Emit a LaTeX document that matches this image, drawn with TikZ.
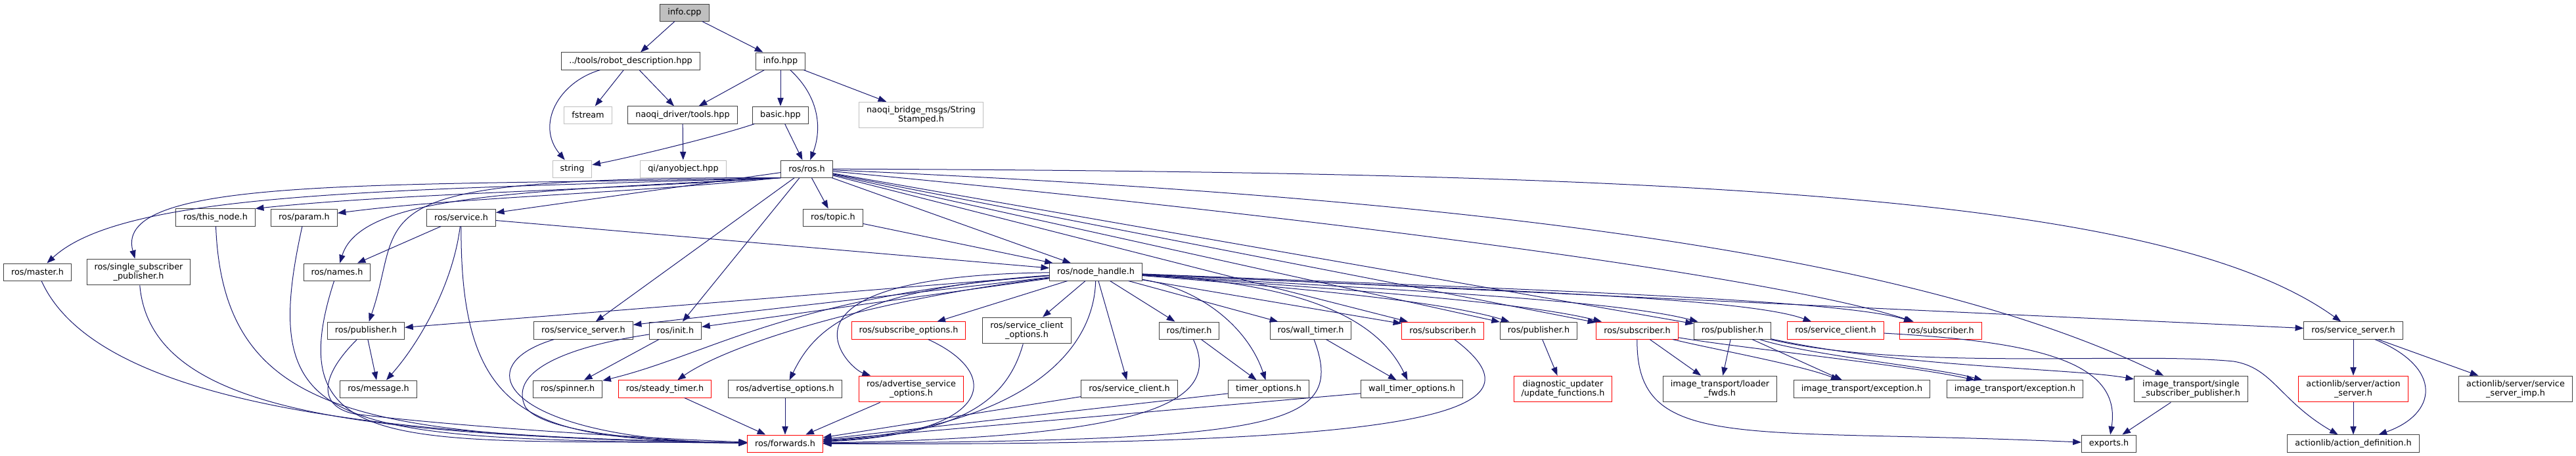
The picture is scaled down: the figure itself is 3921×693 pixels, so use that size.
\documentclass[tikz,border=0pt]{standalone}
\usepackage{fontspec}
\setmainfont{DejaVu Sans}
\usetikzlibrary{arrows.meta}
\definecolor{EdgeBlue}{HTML}{191970}
\definecolor{BoxGray}{HTML}{404040}
\definecolor{ExtGray}{HTML}{BFBFBF}
\definecolor{RootFill}{HTML}{BFBFBF}
\definecolor{TruncRed}{HTML}{FF0000}

\begin{document}
\begin{tikzpicture}[
x=0.75pt,y=-0.75pt,
hdr/.style={draw=BoxGray,fill=white,line width=0.75pt,align=center,minimum height=19.5pt,inner xsep=8.6pt,inner ysep=5pt,font=\fontsize{9.6pt}{10.3pt}\selectfont},
hdrred/.style={hdr,draw=TruncRed},
hdrext/.style={hdr,draw=ExtGray},
hdrroot/.style={hdr,fill=RootFill},
inc/.style={EdgeBlue,line width=0.75pt,-{Triangle[length=9.5pt,width=7pt]}}
]
\useasboundingbox (0,0) rectangle (3921,693);
\node[hdrroot] (infocpp) at (1042,19) {info.cpp};
\node[hdr] (robdesc) at (960,93) {../tools/robot\_description.hpp};
\node[hdr] (infohpp) at (1188,93) {info.hpp};
\node[hdrext] (fstream) at (895,175) {fstream};
\node[hdr] (tools) at (1039,175) {naoqi\_driver/tools.hpp};
\node[hdr] (basic) at (1188,175) {basic.hpp};
\node[hdrext] (stamped) at (1402,175) {naoqi\_bridge\_msgs/String\\Stamped.h};
\node[hdrext] (string) at (871,257) {string};
\node[hdrext] (anyobj) at (1040,257) {qi/anyobject.hpp};
\node[hdr] (ros) at (1228,257) {ros/ros.h};
\node[hdr] (thisnode) at (328,331) {ros/this\_node.h};
\node[hdr] (param) at (463,331) {ros/param.h};
\node[hdr] (service) at (702,331) {ros/service.h};
\node[hdr] (topic) at (1268,331) {ros/topic.h};
\node[hdr] (master) at (57,414) {ros/master.h};
\node[hdr] (ssp) at (211,414) {ros/single\_subscriber\\\_publisher.h};
\node[hdr] (names) at (513,414) {ros/names.h};
\node[hdr] (nodehandle) at (1668,414) {ros/node\_handle.h};
\node[hdr] (pub1) at (557,503) {ros/publisher.h};
\node[hdr] (srvsrv1) at (888,503) {ros/service\_server.h};
\node[hdr] (init) at (1028,503) {ros/init.h};
\node[hdrred] (subopts) at (1383,503) {ros/subscribe\_options.h};
\node[hdr] (srvcliopts) at (1563,503) {ros/service\_client\\\_options.h};
\node[hdr] (timer) at (1810,503) {ros/timer.h};
\node[hdr] (walltimer) at (1995,503) {ros/wall\_timer.h};
\node[hdrred] (sub1) at (2196,503) {ros/subscriber.h};
\node[hdr] (pub2) at (2342,503) {ros/publisher.h};
\node[hdrred] (sub2) at (2492,503) {ros/subscriber.h};
\node[hdr] (pub3) at (2637,503) {ros/publisher.h};
\node[hdrred] (srvcli2) at (2794,503) {ros/service\_client.h};
\node[hdrred] (sub3) at (2954,503) {ros/subscriber.h};
\node[hdr] (srvsrv2) at (3582,503) {ros/service\_server.h};
\node[hdr] (message) at (576,592) {ros/message.h};
\node[hdr] (spinner) at (864,592) {ros/spinner.h};
\node[hdrred] (steady) at (1012,592) {ros/steady\_timer.h};
\node[hdr] (advopts) at (1195,592) {ros/advertise\_options.h};
\node[hdrred] (advsrvopts) at (1387,592) {ros/advertise\_service\\\_options.h};
\node[hdr] (srvcli1) at (1719,592) {ros/service\_client.h};
\node[hdr] (timeropts) at (1931,592) {timer\_options.h};
\node[hdr] (walltimeropts) at (2149,592) {wall\_timer\_options.h};
\node[hdrred] (diag) at (2379,592) {diagnostic\_updater\\/update\_functions.h};
\node[hdr] (loader) at (2618,592) {image\_transport/loader\\\_fwds.h};
\node[hdr] (exc1) at (2834,592) {image\_transport/exception.h};
\node[hdr] (exc2) at (3067,592) {image\_transport/exception.h};
\node[hdr] (itssp) at (3335,592) {image\_transport/single\\\_subscriber\_publisher.h};
\node[hdrred] (actsrv) at (3582,592) {actionlib/server/action\\\_server.h};
\node[hdr] (srvimp) at (3829,592) {actionlib/server/service\\\_server\_imp.h};
\node[hdrred] (forwards) at (1195,675) {ros/forwards.h};
\node[hdr] (exports) at (3210,675) {exports.h};
\node[hdr] (actdef) at (3582,675) {actionlib/action\_definition.h};
\draw[inc] (infocpp) -- (robdesc);
\draw[inc] (infocpp) -- (infohpp);
\draw[inc] (robdesc) .. controls (850,125) and (815,190) .. (string);
\draw[inc] (robdesc) -- (fstream);
\draw[inc] (robdesc) -- (tools);
\draw[inc] (infohpp) -- (tools);
\draw[inc] (infohpp) -- (basic);
\draw[inc] (infohpp) .. controls (1250,150) and (1250,200) .. (ros);
\draw[inc] (infohpp) -- (stamped);
\draw[inc] (tools) -- (anyobj);
\draw[inc] (basic) .. controls (1100,205) and (980,235) .. (string);
\draw[inc] (basic) -- (ros);
\draw[inc] (ros.south west) .. controls (600,290) and (190,290) .. (master);
\draw[inc] (ros.south west) .. controls (600,285) and (170,265) .. (ssp);
\draw[inc] (ros.south west) .. controls (900,290) and (600,295) .. (thisnode.north east);
\draw[inc] (ros.south west) .. controls (950,295) and (700,300) .. (param);
\draw[inc] (ros.south west) .. controls (800,292) and (550,295) .. (names);
\draw[inc] (ros.south west) .. controls (520,270) and (620,320) .. (pub1);
\draw[inc] (ros) -- (service);
\draw[inc] (ros) -- (topic);
\draw[inc] (ros) -- (srvsrv1);
\draw[inc] (ros) -- (init);
\draw[inc] (ros) -- (nodehandle);
\draw[inc] (ros) -- (sub1);
\draw[inc] (ros) -- (pub2);
\draw[inc] (ros) -- (sub2);
\draw[inc] (ros) -- (pub3);
\draw[inc] (ros) .. controls (2000,330) and (2700,420) .. (sub3);
\draw[inc] (ros) .. controls (2200,300) and (2900,380) .. (itssp);
\draw[inc] (ros) .. controls (2600,262) and (3300,300) .. (srvsrv2);
\draw[inc] (topic) -- (nodehandle);
\draw[inc] (service) -- (nodehandle);
\draw[inc] (service) -- (names);
\draw[inc] (service) .. controls (690,430) and (640,520) .. (message);
\draw[inc] (service) .. controls (700,650) and (820,668) .. (forwards);
\draw[inc] (nodehandle) -- (pub1);
\draw[inc] (nodehandle) -- (srvsrv1);
\draw[inc] (nodehandle) -- (init);
\draw[inc] (nodehandle) .. controls (1200,450) and (1080,540) .. (spinner);
\draw[inc] (nodehandle) .. controls (1300,460) and (1100,530) .. (steady);
\draw[inc] (nodehandle) .. controls (1300,440) and (1240,500) .. (advopts);
\draw[inc] (nodehandle) .. controls (1150,420) and (1290,560) .. (advsrvopts);
\draw[inc] (nodehandle) -- (subopts);
\draw[inc] (nodehandle) -- (srvcliopts);
\draw[inc] (nodehandle) .. controls (1665,540) and (1550,650) .. (forwards);
\draw[inc] (nodehandle) -- (srvcli1);
\draw[inc] (nodehandle) -- (timer);
\draw[inc] (nodehandle) .. controls (1830,440) and (1900,500) .. (timeropts);
\draw[inc] (nodehandle) -- (walltimer);
\draw[inc] (nodehandle) .. controls (1950,430) and (2090,470) .. (walltimeropts);
\draw[inc] (nodehandle) -- (sub1);
\draw[inc] (nodehandle) .. controls (2000,440) and (2200,460) .. (pub2);
\draw[inc] (nodehandle) .. controls (2050,440) and (2320,460) .. (sub2);
\draw[inc] (nodehandle) .. controls (2100,440) and (2450,455) .. (pub3);
\draw[inc] (nodehandle) .. controls (2200,440) and (2650,450) .. (srvcli2);
\draw[inc] (nodehandle) .. controls (2300,440) and (2800,455) .. (sub3);
\draw[inc] (nodehandle) -- (srvsrv2);
\draw[inc] (pub1) -- (message);
\draw[inc] (init) -- (spinner);
\draw[inc] (timer) -- (timeropts);
\draw[inc] (walltimer) -- (walltimeropts);
\draw[inc] (pub2) -- (diag);
\draw[inc] (master) .. controls (150,620) and (600,665) .. (forwards);
\draw[inc] (ssp) .. controls (230,630) and (550,663) .. (forwards);
\draw[inc] (thisnode) .. controls (340,640) and (560,664) .. (forwards);
\draw[inc] (param) .. controls (390,660) and (500,668) .. (forwards);
\draw[inc] (names) .. controls (420,700) and (620,668) .. (forwards);
\draw[inc] (pub1) .. controls (480,580) and (490,620) .. (540,630) .. controls (700,650) and (1000,668) .. (forwards);
\draw[inc] (srvsrv1) .. controls (700,560) and (780,670) .. (forwards);
\draw[inc] (init) .. controls (880,525) and (770,560) .. (800,620) .. controls (830,660) and (1000,672) .. (forwards);
\draw[inc] (steady) -- (forwards);
\draw[inc] (advopts) -- (forwards);
\draw[inc] (advsrvopts) -- (forwards);
\draw[inc] (subopts) .. controls (1530,570) and (1510,660) .. (forwards);
\draw[inc] (srvcliopts) .. controls (1530,620) and (1450,660) .. (forwards);
\draw[inc] (srvcli1) -- (forwards);
\draw[inc] (timer) .. controls (1860,610) and (1760,665) .. (forwards);
\draw[inc] (timeropts) -- (forwards);
\draw[inc] (walltimer) .. controls (2050,650) and (1950,670) .. (forwards);
\draw[inc] (walltimeropts) -- (forwards);
\draw[inc] (sub1) .. controls (2350,620) and (2230,680) .. (forwards);
\draw[inc] (sub2) -- (loader);
\draw[inc] (sub2) .. controls (2600,530) and (2740,555) .. (exc1);
\draw[inc] (sub2) .. controls (2650,530) and (2900,555) .. (exc2);
\draw[inc] (sub2) .. controls (2490,690) and (2650,650) .. (exports);
\draw[inc] (pub3) -- (loader);
\draw[inc] (pub3) -- (exc1);
\draw[inc] (pub3) .. controls (2750,540) and (2950,560) .. (exc2);
\draw[inc] (pub3) .. controls (2900,560) and (3150,560) .. (itssp);
\draw[inc] (pub3) .. controls (2900,565) and (3250,535) .. (3400,550) .. controls (3460,560) and (3470,610) .. (actdef);
\draw[inc] (srvcli2) .. controls (3100,520) and (3230,550) .. (exports);
\draw[inc] (itssp) -- (exports);
\draw[inc] (srvsrv2) -- (actsrv);
\draw[inc] (srvsrv2) -- (srvimp);
\draw[inc] (srvsrv2) .. controls (3720,560) and (3710,630) .. (actdef);
\draw[inc] (actsrv) -- (actdef);
\end{tikzpicture}
\end{document}
